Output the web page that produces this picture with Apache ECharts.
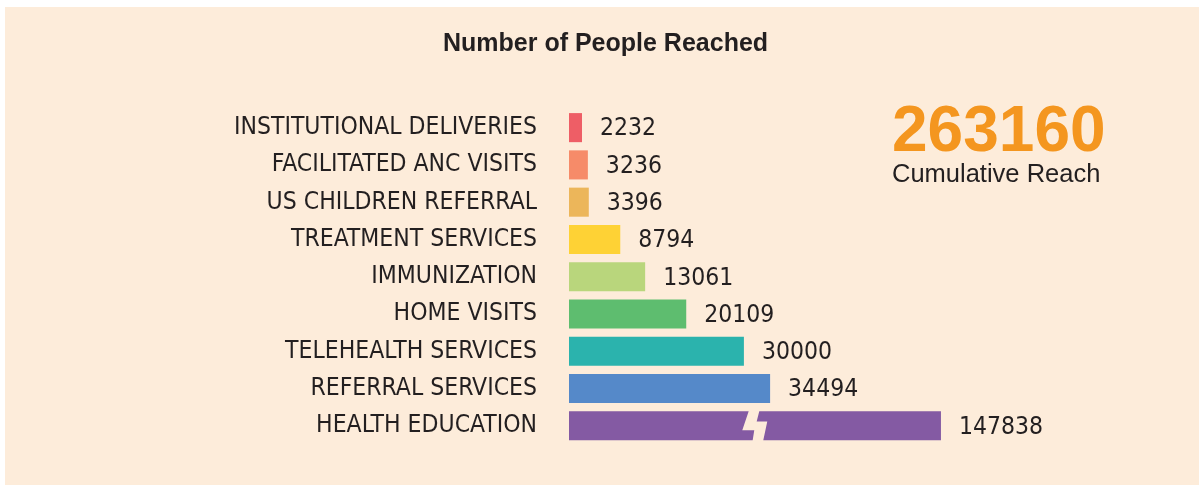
<!DOCTYPE html>
<html>
<head>
<meta charset="utf-8">
<title>Number of People Reached</title>
<script src="https://cdn.jsdelivr.net/npm/echarts@6/dist/echarts.min.js"></script>
<style>
  html, body { margin: 0; padding: 0; background: #fff; }
  #chart { width: 1199px; height: 485px; }
</style>
</head>
<body>
<div id="chart"></div>
<script>
  // data
  var categories = [
    'INSTITUTIONAL DELIVERIES', 'FACILITATED ANC VISITS', 'US CHILDREN REFERRAL',
    'TREATMENT SERVICES', 'IMMUNIZATION', 'HOME VISITS',
    'TELEHEALTH SERVICES', 'REFERRAL SERVICES', 'HEALTH EDUCATION'
  ];
  var reached = [2232, 3236, 3396, 8794, 13061, 20109, 30000, 34494, 147838];
  var barColors = ['#EE5E66', '#F68B69', '#ECB65A', '#FED235', '#B9D67C',
                   '#5EBD6F', '#2BB3AD', '#5589C9', '#845AA3'];

  // bars longer than this are drawn broken, cut to this length
  var breakShown = 63800;

  var total = reached.reduce(function (a, b) { return a + b; }, 0);

  var narrow = '"Liberation Sans Narrow", "DejaVu Sans Condensed", sans-serif';
  var ink = '#231F20';

  var chart = echarts.init(document.getElementById('chart'));

  function renderBar(params, api) {
    var v = api.value(0);
    var idx = api.value(1);
    var shown = Math.min(v, breakShown);
    var p0 = api.coord([0, idx]);
    var p1 = api.coord([shown, idx]);
    var h = api.size([0, 1])[1] * 0.78;
    var top = p0[1] - h / 2;
    var bot = p0[1] + h / 2;
    var color = barColors[idx];
    var kids = [];

    if (v > breakShown) {
      // lightning shaped cut in the middle of the bar
      var cx = p0[0] + (p1[0] - p0[0]) * 0.5;
      var yA = top + h * 0.35, yB = top + h * 0.65;
      kids.push({
        type: 'polygon',
        shape: { points: [[p0[0], top], [cx - 6.3, top], [cx - 12.7, yB], [cx - 0.7, yB], [cx - 2.3, bot], [p0[0], bot]] },
        style: { fill: color }
      });
      kids.push({
        type: 'polygon',
        shape: { points: [[cx + 4.3, top], [p1[0], top], [p1[0], bot], [cx + 8.3, bot], [cx + 12.3, yA], [cx + 1.7, yA]] },
        style: { fill: color }
      });
    } else {
      kids.push({
        type: 'rect',
        shape: { x: p0[0], y: top, width: p1[0] - p0[0], height: h },
        style: { fill: color }
      });
    }

    kids.push({
      type: 'text',
      x: p1[0] + 18,
      y: p0[1] + 1.5,
      style: {
        text: String(v),
        fill: ink,
        font: '24.5px ' + narrow,
        verticalAlign: 'middle',
        align: 'left'
      }
    });

    return { type: 'group', children: kids };
  }

  var option = {
    backgroundColor: '#ffffff',
    animation: false,
    title: {
      text: 'Number of People Reached',
      left: 438,
      top: 27,
      textStyle: {
        fontFamily: '"Liberation Sans", Arial, sans-serif',
        fontWeight: 'bold',
        fontSize: 25,
        color: ink
      }
    },
    graphic: [
      {
        type: 'rect',
        z: -10,
        shape: { x: 5, y: 7, width: 1194, height: 478 },
        style: { fill: '#FDECDA' }
      },
      {
        type: 'text',
        left: 892,
        top: 101,
        style: {
          text: String(total),
          fill: '#F4961F',
          font: 'bold 64px "Liberation Sans", Arial, sans-serif'
        }
      },
      {
        type: 'text',
        left: 892,
        top: 162,
        style: {
          text: 'Cumulative Reach',
          fill: ink,
          font: '25.5px "Liberation Sans", Arial, sans-serif'
        }
      }
    ],
    grid: { left: 569, right: 47, top: 109, bottom: 40.6 },
    xAxis: {
      type: 'value',
      min: 0,
      max: 100000,
      show: false,
      splitLine: { show: false }
    },
    yAxis: {
      type: 'category',
      inverse: true,
      data: categories,
      axisLine: { show: false },
      axisTick: { show: false },
      axisLabel: {
        margin: 32,
        fontSize: 24.5,
        fontFamily: narrow,
        color: ink,
        padding: [0, 0, 8, 0]
      }
    },
    series: [{
      type: 'custom',
      renderItem: renderBar,
      encode: { x: 0, y: 1 },
      data: reached.map(function (v, i) { return [v, i]; })
    }]
  };

  chart.setOption(option);
</script>
</body>
</html>
